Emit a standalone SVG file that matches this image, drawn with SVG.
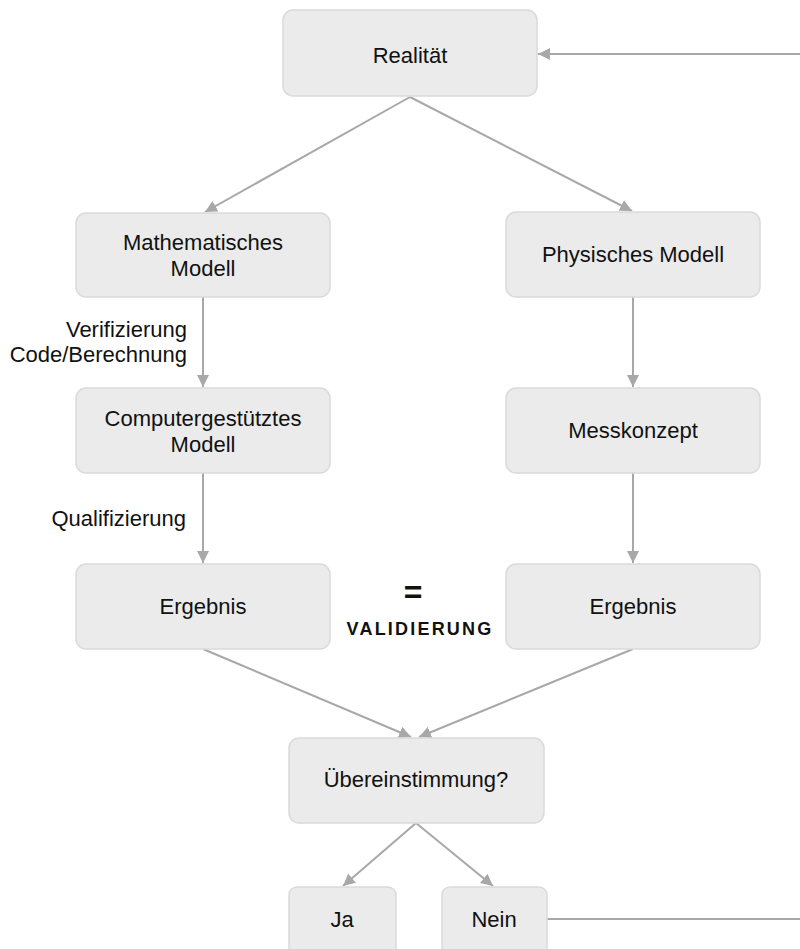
<svg xmlns="http://www.w3.org/2000/svg" width="800" height="949" viewBox="0 0 800 949">
<style>
.box{fill:#ebebeb;stroke:#dadada;stroke-width:1.5}
.t{font-family:"Liberation Sans",Arial,sans-serif;font-size:22px;fill:#111;text-anchor:middle}
.l{font-family:"Liberation Sans",Arial,sans-serif;font-size:22px;fill:#111;text-anchor:end}
.b{font-family:"Liberation Sans",Arial,sans-serif;font-weight:bold;fill:#111;text-anchor:middle}
.c{stroke:#a8a8a8;stroke-width:2;fill:none;marker-end:url(#ah)}
.cn{stroke:#a8a8a8;stroke-width:2;fill:none}
</style>
<defs>
<marker id="ah" viewBox="0 0 10 10" refX="10" refY="5" markerWidth="6" markerHeight="6" markerUnits="strokeWidth" orient="auto">
<path d="M0,0 L10,5 L0,10 z" fill="#a8a8a8"/>
</marker>
</defs>
<g id="connectors">
<path class="c" d="M800,54 L538,54"/>
<path class="c" d="M410,97 L205,212"/>
<path class="c" d="M410,97 L632,211"/>
<path class="c" d="M203,297 L203,387"/>
<path class="c" d="M633,297 L633,387"/>
<path class="c" d="M203,473 L203,563"/>
<path class="c" d="M633,473 L633,563"/>
<path class="c" d="M203,649 L411,737"/>
<path class="c" d="M633,649 L419,737"/>
<path class="c" d="M416,823 L343,886"/>
<path class="c" d="M416,823 L493,886"/>
<path class="cn" d="M547,919 L800,919"/>
</g>
<g id="realitaet"><rect class="box" x="283" y="10" width="254" height="86" rx="10"/><text class="t" x="410" y="63">Realität</text></g>
<g id="math"><rect class="box" x="76" y="213" width="254" height="84" rx="10"/><text class="t" x="203" y="250">Mathematisches</text><text class="t" x="203" y="276">Modell</text></g>
<g id="phys"><rect class="box" x="506" y="212" width="254" height="85" rx="10"/><text class="t" x="633" y="262">Physisches Modell</text></g>
<g id="comp"><rect class="box" x="76" y="388" width="254" height="85" rx="10"/><text class="t" x="203" y="426">Computergestütztes</text><text class="t" x="203" y="452">Modell</text></g>
<g id="mess"><rect class="box" x="506" y="388" width="254" height="85" rx="10"/><text class="t" x="633" y="438">Messkonzept</text></g>
<g id="erg1"><rect class="box" x="76" y="564" width="254" height="85" rx="10"/><text class="t" x="203" y="614">Ergebnis</text></g>
<g id="erg2"><rect class="box" x="506" y="564" width="254" height="85" rx="10"/><text class="t" x="633" y="614">Ergebnis</text></g>
<g id="ueber"><rect class="box" x="289" y="738" width="255" height="85" rx="10"/><text class="t" x="416" y="787">Übereinstimmung?</text></g>
<g id="ja"><rect class="box" x="289" y="887" width="107" height="70" rx="8"/><text class="t" x="342" y="927">Ja</text></g>
<g id="nein"><rect class="box" x="442" y="887" width="105" height="70" rx="8"/><text class="t" x="494" y="927">Nein</text></g>
<g id="labels">
<text class="l" x="187" y="337">Verifizierung</text>
<text class="l" x="187" y="362">Code/Berechnung</text>
<text class="l" x="186" y="526">Qualifizierung</text>
<text class="b" x="413" y="603" font-size="32">=</text>
<text class="b" x="420" y="635" font-size="18" letter-spacing="2.2">VALIDIERUNG</text>
</g>
</svg>
